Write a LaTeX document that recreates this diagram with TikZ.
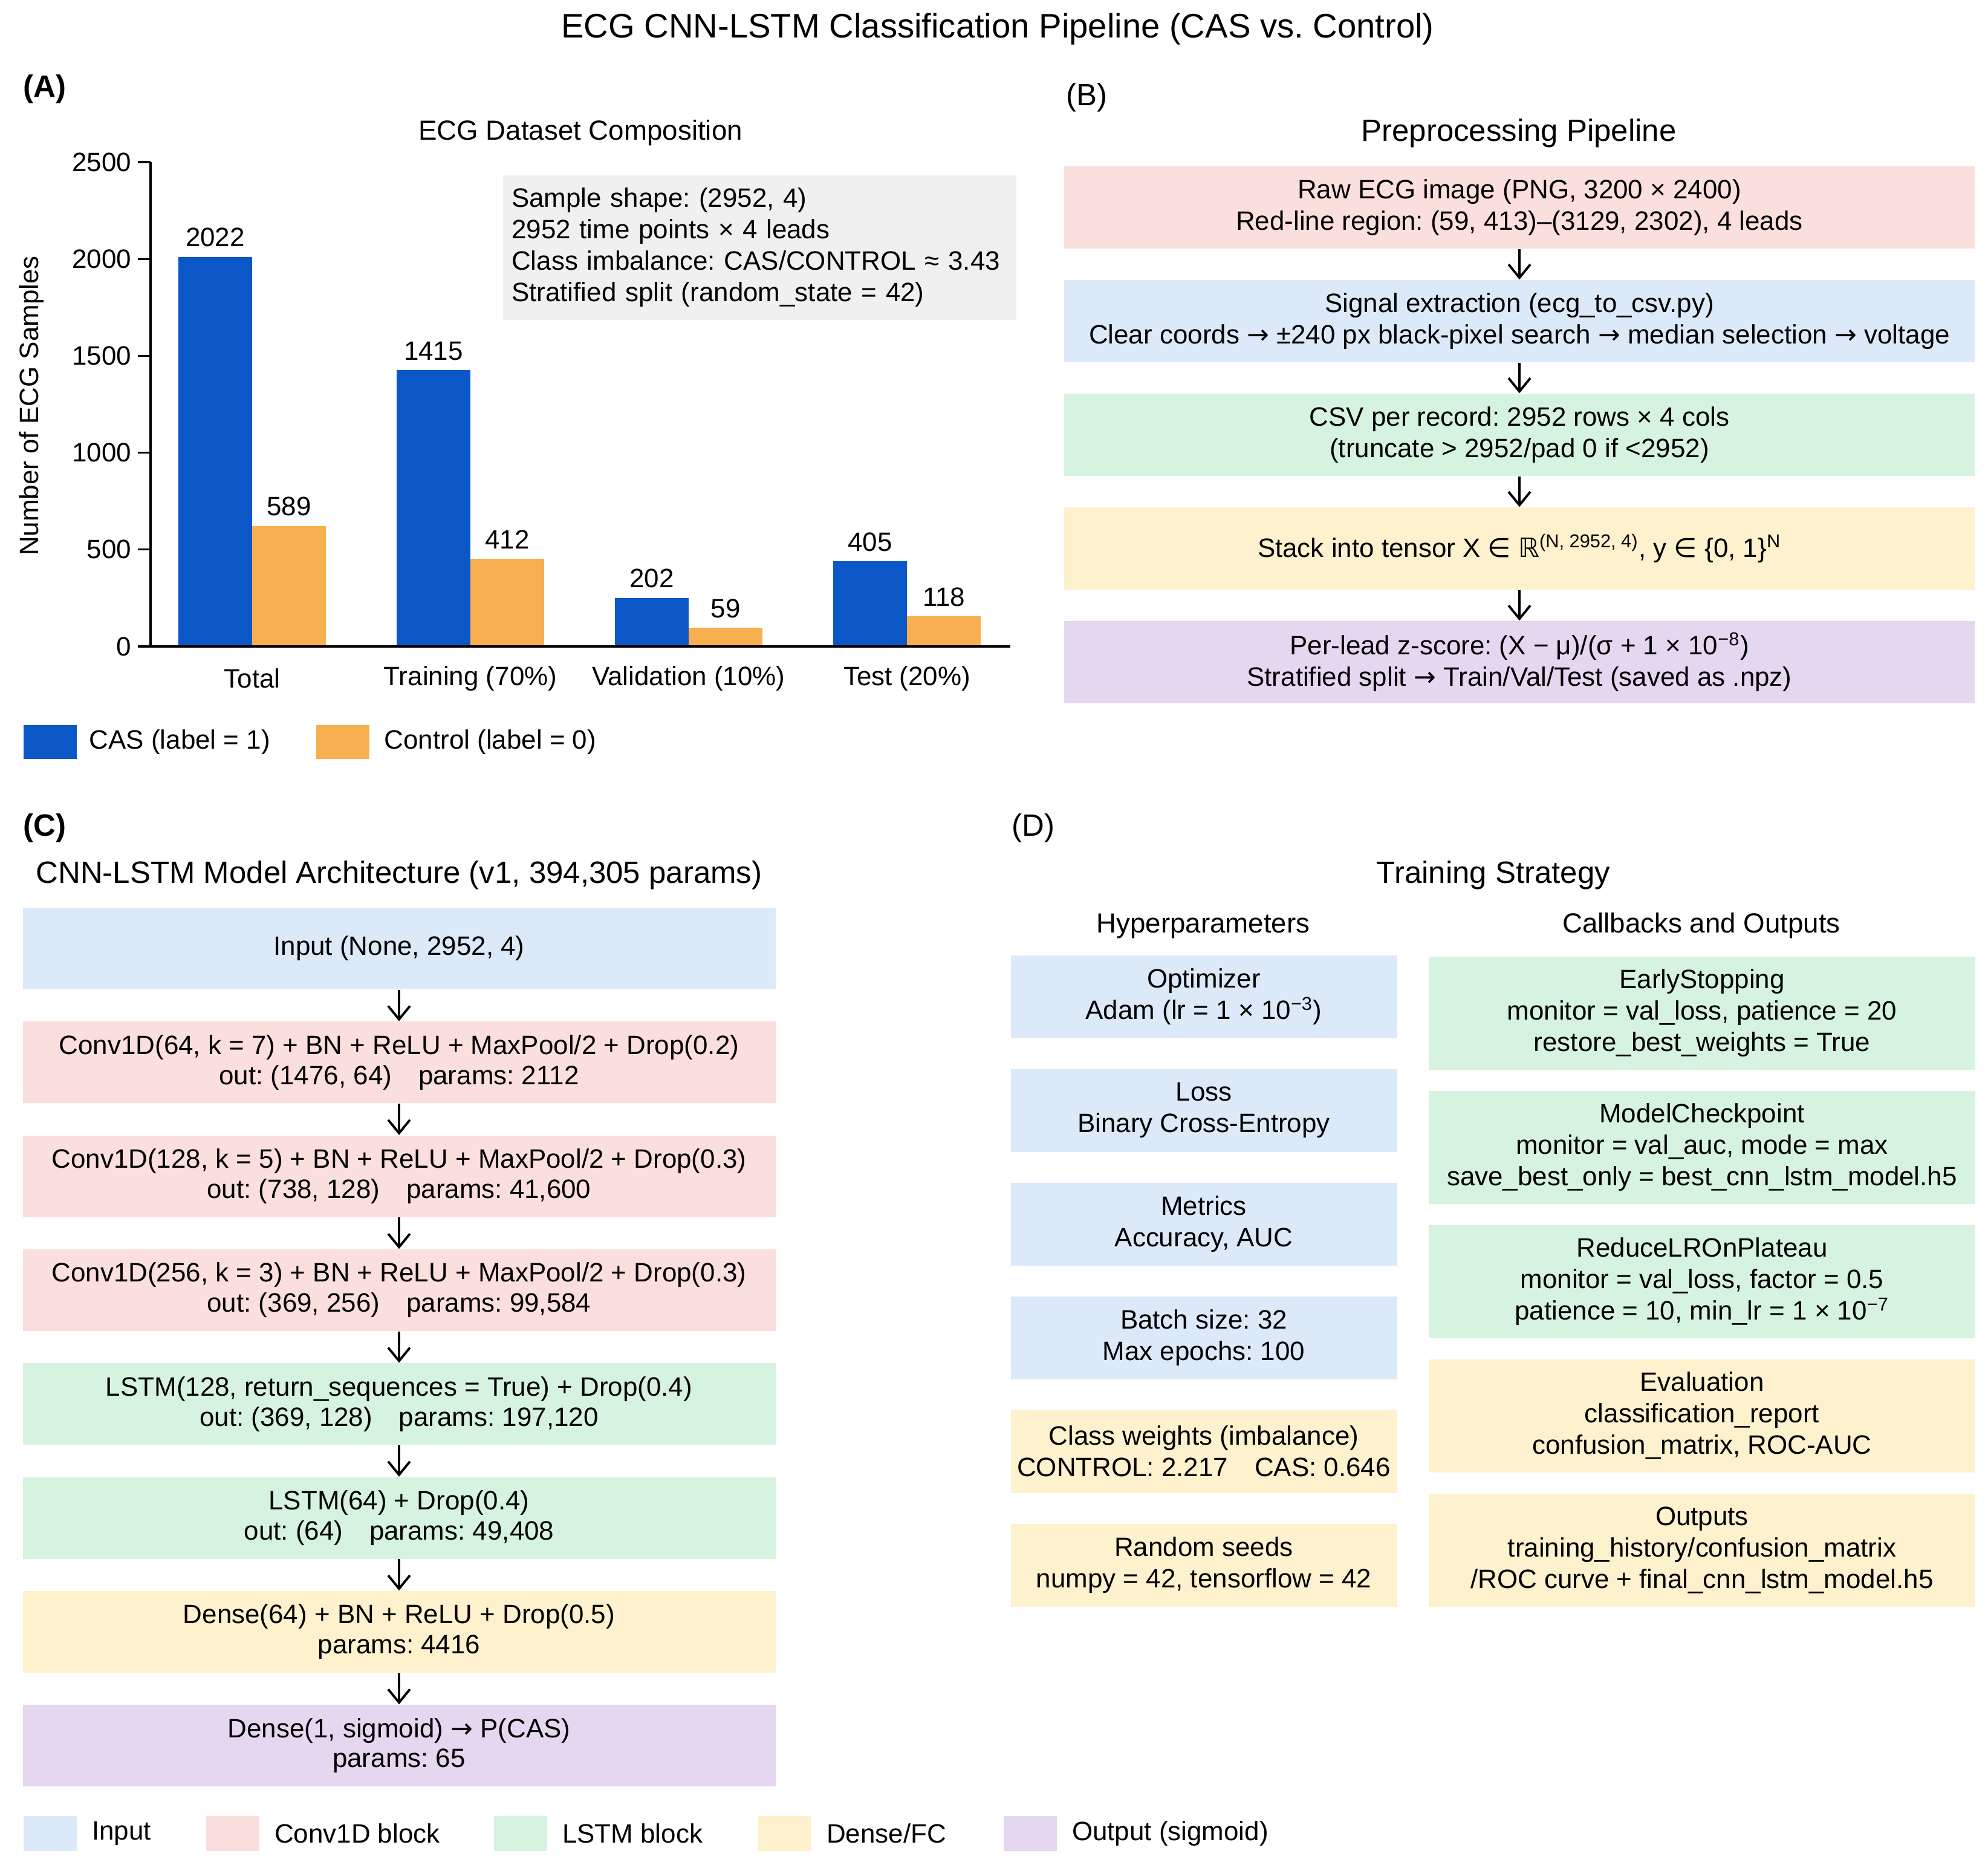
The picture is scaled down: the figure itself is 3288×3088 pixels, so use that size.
\documentclass[tikz,border=0pt]{standalone}
\usepackage{fontspec}
\setmainfont{Liberation Sans}
\setsansfont{Liberation Sans}
\newfontfamily\symfont{DejaVu Sans}
\newcommand{\rarr}{{\symfont →}}
\frenchspacing
\usetikzlibrary{arrows.meta, positioning}
\definecolor{cblue}{HTML}{0B57C8}
\definecolor{corange}{HTML}{F7AF4F}
\definecolor{cinput}{HTML}{DBE9F8}
\definecolor{cconv}{HTML}{FADFDC}
\definecolor{clstm}{HTML}{D6F3DF}
\definecolor{cdense}{HTML}{FEF1CD}
\definecolor{cout}{HTML}{E5D7EF}
\definecolor{cinfo}{HTML}{F0F0F0}
\tikzset{
  every picture/.style={font=\sffamily},
  body/.style={font=\sffamily\fontsize{12.5}{14.8}\selectfont},
  box/.style={fill=#1, align=center, inner sep=0pt, font=\sffamily\fontsize{12.5}{14.8}\selectfont},
  box/.default=cinput,
  swatch/.style={fill=#1, minimum width=8.8mm, minimum height=5.6mm, inner sep=0pt},
  arrow/.style={-{Straight Barb[length=2.2mm, width=3.6mm]}, line width=1.1pt},
  bigtitle/.style={font=\sffamily\fontsize{16}{19}\selectfont},
  subtitle/.style={font=\sffamily\fontsize{14.5}{17}\selectfont},
  panel/.style={font=\sffamily\fontsize{14.5}{17}\selectfont, anchor=west, inner sep=0pt},
}
\begin{document}
\begin{tikzpicture}[x=0.1mm, y=-0.1mm,
                    val/.style={body, anchor=south, inner sep=4.5pt},
                    axis/.style={line width=0.9pt}]
  \useasboundingbox (0,0) rectangle (3288,3088);
  \node[bigtitle] (title) at (1650,48) {ECG CNN-LSTM Classification Pipeline (CAS vs. Control)};
  % (A) dataset composition
  \node[panel, font=\sffamily\bfseries\fontsize{14.5}{17}\selectfont] (pa) at (38,147) {(A)};
  \node[font=\sffamily\fontsize{13}{16}\selectfont] (ta) at (960,220) {ECG Dataset Composition};
  \foreach \g/\xm/\hc/\hk/\nc/\nk/\lab in {tot/417/2011/622/2022/589/Total, trn/778/1425/453/1415/412/Training (70\%),
                                          vld/1139/251/96/202/59/Validation (10\%), tst/1500/440/155/405/118/Test (20\%)} {
    \fill[cblue] ({\xm-122},1069) rectangle (\xm,{1069-0.3204*\hc});
    \fill[corange] (\xm,1069) rectangle ({\xm+122},{1069-0.3204*\hk});
    \node[val] (\g-cas) at ({\xm-61},{1069-0.3204*\hc}) {\nc};
    \node[val] (\g-ctl) at ({\xm+61},{1069-0.3204*\hk}) {\nk};
    \node[body] (\g-lab) at (\xm,1122) {\lab};
  }
  \draw[axis] (249,268) -- (249,1069) -- (1671,1069);
  \foreach \v in {0,500,...,2500} {
    \draw[axis] (228,{1069-0.3204*\v}) -- ++(21,0);
    \node[body, anchor=east, inner sep=0pt] (tick\v) at (218,{1069-0.3204*\v}) {\v};
  }
  \node[body, rotate=90] (ylab) at (52,671) {Number of ECG Samples};
  \node[body, fill=cinfo, anchor=north west, align=left, text width=8.2cm, inner xsep=1.45mm,
        minimum height=2.39cm] (info) at (831,289)
       {Sample shape: (2952, 4)\\2952 time points × 4 leads\\Class imbalance: CAS/CONTROL ≈ 3.43\\Stratified split (random\_state = 42)};
  \node[swatch=cblue, anchor=west] (keycas) at (38,1227) {};
  \node[body, anchor=west, inner sep=0pt] (keycastxt) at (147,1227) {CAS (label = 1)};
  \node[swatch=corange, anchor=west] (keyctl) at (522,1227) {};
  \node[body, anchor=west, inner sep=0pt] (keyctltxt) at (635,1227) {Control (label = 0)};
  % (B) preprocessing
  \node[panel] (pb) at (1763,161) {(B)};
  \node[subtitle] (tb) at (2512,220) {Preprocessing Pipeline};
  \foreach \n/\col/\txt in {1/cconv/{Raw ECG image (PNG, 3200 × 2400)\\Red-line region: (59, 413)–(3129, 2302), 4 leads},
                            2/cinput/{Signal extraction (ecg\_to\_csv.py)\\Clear coords \rarr{} ±240 px black-pixel search \rarr{} median selection \rarr{} voltage},
                            3/clstm/{CSV per record: 2952 rows × 4 cols\\(truncate > 2952/pad 0 if <2952)},
                            4/cdense/{Stack into tensor X {\symfont ∈} {\symfont ℝ}\textsuperscript{(N, 2952, 4)}, y {\symfont ∈} \{0, 1\}\textsuperscript{N}},
                            5/cout/{Per-lead z-score: (X − μ)/(σ + 1 × 10\textsuperscript{−8})\\Stratified split \rarr{} Train/Val/Test (saved as .npz)}}
    \node[box=\col, minimum width=15.06cm, minimum height=1.36cm] (b\n) at (2513,{155+188*\n}) {\txt};
  \foreach \a/\b in {1/2,2/3,3/4,4/5}
    \draw[arrow] (b\a) -- (b\b);
  % (C) model
  \node[panel, font=\sffamily\bfseries\fontsize{14.5}{17}\selectfont] (pc) at (38,1369) {(C)};
  \node[subtitle] (tc) at (660,1447) {CNN-LSTM Model Architecture (v1, 394,305 params)};
  \foreach \n/\col/\txt in {1/cinput/{Input (None, 2952, 4)},
                            2/cconv/{Conv1D(64, k = 7) + BN + ReLU + MaxPool/2 + Drop(0.2)\\out: (1476, 64)\quad params: 2112},
                            3/cconv/{Conv1D(128, k = 5) + BN + ReLU + MaxPool/2 + Drop(0.3)\\out: (738, 128)\quad params: 41,600},
                            4/cconv/{Conv1D(256, k = 3) + BN + ReLU + MaxPool/2 + Drop(0.3)\\out: (369, 256)\quad params: 99,584},
                            5/clstm/{LSTM(128, return\_sequences = True) + Drop(0.4)\\out: (369, 128)\quad params: 197,120},
                            6/clstm/{LSTM(64) + Drop(0.4)\\out: (64)\quad params: 49,408},
                            7/cdense/{Dense(64) + BN + ReLU + Drop(0.5)\\params: 4416},
                            8/cout/{Dense(1, sigmoid) \rarr{} P(CAS)\\params: 65}}
    \node[box=\col, minimum width=12.45cm, minimum height=1.35cm, font=\sffamily\fontsize{12.5}{14.2}\selectfont] (c\n) at (660,{1380.2+188.3*\n}) {\txt};
  \foreach \a/\b in {1/2,2/3,3/4,4/5,5/6,6/7,7/8}
    \draw[arrow] (c\a) -- (c\b);
  \foreach \n/\col/\x/\txt in {1/cinput/38/Input, 2/cconv/340/Conv1D block, 3/clstm/816/LSTM block,
                               4/cdense/1253/{Dense/FC}, 5/cout/1659/Output (sigmoid)} {
    \node[swatch=\col, anchor=west, minimum height=5.8mm] (leg\n) at (\x,3032) {};
    \node[body, anchor=west, inner sep=0pt] (legtxt\n) at ([xshift=2.4mm]leg\n.east) {\txt};
  }
  % (D) training
  \node[panel] (pd) at (1673,1369) {(D)};
  \node[subtitle] (td) at (2470,1447) {Training Strategy};
  \node[body, font=\sffamily\fontsize{13}{16}\selectfont] (hyp) at (1990,1531) {Hyperparameters};
  \node[body, font=\sffamily\fontsize{13}{16}\selectfont] (cbk) at (2814,1531) {Callbacks and Outputs};
  \foreach \n/\col/\txt in {1/cinput/{Optimizer\\Adam (lr = 1 × 10\textsuperscript{−3})},
                            2/cinput/{Loss\\Binary Cross-Entropy},
                            3/cinput/{Metrics\\Accuracy, AUC},
                            4/cinput/{Batch size: 32\\Max epochs: 100},
                            5/cdense/{Class weights (imbalance)\\CONTROL: 2.217\quad CAS: 0.646},
                            6/cdense/{Random seeds\\numpy = 42, tensorflow = 42}}
    \node[box=\col, minimum width=6.39cm, minimum height=1.37cm] (h\n) at (1991,{1460+188*\n}) {\txt};
  \foreach \n/\col/\txt in {1/clstm/{EarlyStopping\\monitor = val\_loss, patience = 20\\restore\_best\_weights = True},
                            2/clstm/{ModelCheckpoint\\monitor = val\_auc, mode = max\\save\_best\_only = best\_cnn\_lstm\_model.h5},
                            3/clstm/{ReduceLROnPlateau\\monitor = val\_loss, factor = 0.5\\patience = 10, min\_lr = 1 × 10\textsuperscript{−7}},
                            4/cdense/{Evaluation\\classification\_report\\confusion\_matrix, ROC-AUC},
                            5/cdense/{Outputs\\training\_history/confusion\_matrix\\/ROC curve + final\_cnn\_lstm\_model.h5}}
    \node[box=\col, minimum width=9.04cm, minimum height=1.87cm] (r\n) at (2815,{1453+222*\n}) {\txt};
\end{tikzpicture}
\end{document}
